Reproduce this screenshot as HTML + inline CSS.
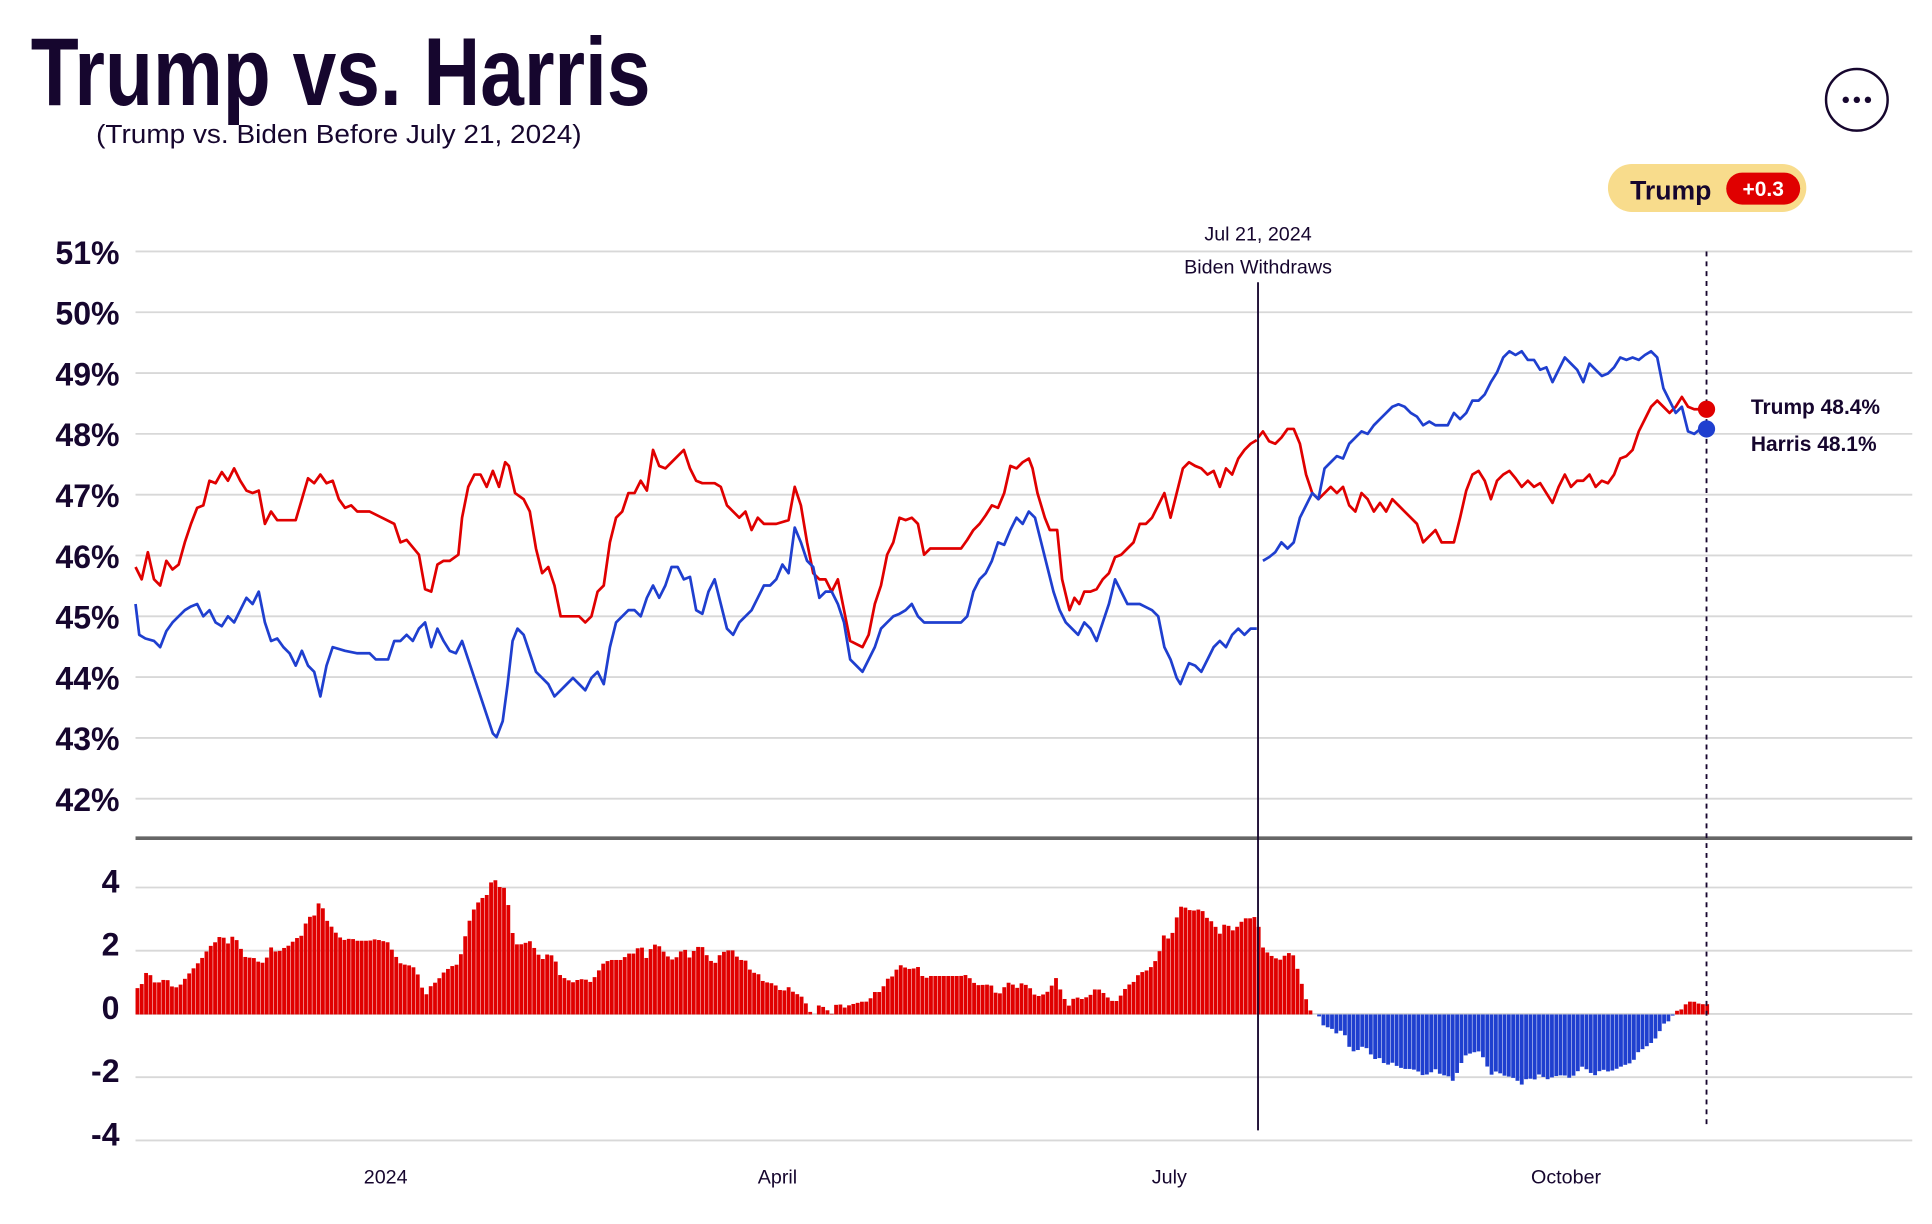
<!DOCTYPE html>
<html><head><meta charset="utf-8"><style>
html,body{margin:0;padding:0;background:#fff;}
svg{display:block;}
text{font-family:"Liberation Sans",sans-serif;}
</style></head><body>
<svg id="s" width="1932" height="1224" viewBox="0 0 1568 993" preserveAspectRatio="none" xmlns="http://www.w3.org/2000/svg">
<text x="25" y="85" font-size="78" font-weight="bold" fill="#16062e" textLength="503" lengthAdjust="spacingAndGlyphs">Trump vs. Harris</text>
<text x="78" y="116" font-size="21" fill="#16062e" textLength="394" lengthAdjust="spacingAndGlyphs">(Trump vs. Biden Before July 21, 2024)</text>
<circle cx="1507" cy="81" r="25" fill="none" stroke="#16062e" stroke-width="2"/>
<circle cx="1498" cy="81" r="2.6" fill="#16062e"/><circle cx="1507" cy="81" r="2.6" fill="#16062e"/><circle cx="1516" cy="81" r="2.6" fill="#16062e"/>
<rect x="1305" y="133" width="161" height="39" rx="19.5" fill="#f8dc8c"/>
<text x="1323" y="162" font-size="22" font-weight="bold" fill="#16062e" textLength="66" lengthAdjust="spacingAndGlyphs">Trump</text>
<rect x="1401" y="140" width="60" height="26" rx="13" fill="#e00000"/>
<text x="1431" y="159" font-size="17" font-weight="bold" fill="#fff" text-anchor="middle">+0.3</text>
<g id="grid"></g>
<g id="bars"></g>
<g id="lines"></g>
<line x1="110" y1="680" x2="1552" y2="680" stroke="#666" stroke-width="3"/>
<line x1="1021" y1="229" x2="1021" y2="917" stroke="#16062e" stroke-width="1.5"/>
<line x1="1385" y1="204" x2="1385" y2="915" stroke="#16062e" stroke-width="1.5" stroke-dasharray="4,4"/>
<text x="1021" y="195" font-size="16" fill="#16062e" text-anchor="middle">Jul 21, 2024</text>
<text x="1021" y="222" font-size="16" fill="#16062e" text-anchor="middle">Biden Withdraws</text>
<circle cx="1385" cy="332" r="7" fill="#e00000"/>
<circle cx="1385" cy="348" r="7" fill="#1f3fcf"/>
<text x="1421" y="336" font-size="17" font-weight="bold" fill="#16062e">Trump 48.4%</text>
<text x="1421" y="366" font-size="17" font-weight="bold" fill="#16062e">Harris 48.1%</text>
<g font-size="16" fill="#16062e" text-anchor="middle">
<text x="313" y="960">2024</text><text x="631" y="960">April</text><text x="949" y="960">July</text><text x="1271" y="960">October</text>
</g>
</svg>
<script>
var NS="http://www.w3.org/2000/svg";
function el(p,t,a,txt){var e=document.createElementNS(NS,t);for(var k in a)e.setAttribute(k,a[k]);if(txt!=null)e.textContent=txt;document.getElementById(p).appendChild(e);return e;}
for(var i=0;i<10;i++){var y=204+i*49.33;el("grid","line",{x1:110,x2:1552,y1:y,y2:y,stroke:"#d8d8d8","stroke-width":1.5});
el("grid","text",{x:97,y:y+10,"font-size":26,"font-weight":"bold",fill:"#16062e","text-anchor":"end"},(51-i)+"%");}
var bl=[4,2,0,-2,-4];for(var i=0;i<5;i++){var y=720+i*51.3;el("grid","line",{x1:110,x2:1552,y1:y,y2:y,stroke:"#d8d8d8","stroke-width":1.5});
el("grid","text",{x:97,y:y+4,"font-size":26,"font-weight":"bold",fill:"#16062e","text-anchor":"end"},bl[i]);}
var R1=[[110,460],[115,470],[120,448],[125,470],[130,475],[135,455],[140,462],[145,458],[150,440],[155,425],[160,412],[165,410],[170,390],[175,392],[180,383],[185,390],[190,380],[195,390],[200,398],[205,400],[210,398],[215,425],[220,415],[225,422],[240,422],[245,405],[250,388],[255,392],[260,385],[265,392],[270,390],[275,405],[280,412],[285,410],[290,415],[300,415],[310,420],[320,425],[325,440],[330,438],[340,450],[345,478],[350,480],[355,458],[360,455],[365,455],[372,450],[375,420],[380,395],[385,385],[390,385],[395,395],[400,382],[405,395],[410,375],[413,378],[418,400],[425,405],[430,415],[435,445],[440,465],[445,460],[450,475],[455,500],[460,500],[470,500],[475,505],[480,500],[485,480],[490,475],[495,440],[500,420],[505,415],[510,400],[515,400],[520,390],[525,398],[530,365],[535,378],[540,380],[545,375],[550,370],[555,365],[560,380],[565,390],[570,392],[580,392],[585,395],[590,410],[595,415],[600,420],[605,415],[610,430],[615,420],[620,425],[630,425],[640,422],[645,395],[650,410],[655,440],[660,465],[665,470],[670,470],[675,480],[680,470],[685,495],[690,520],[700,525],[705,515],[710,490],[715,475],[720,450],[725,440],[730,420],[735,422],[740,420],[745,425],[750,450],[755,445],[770,445],[780,445],[785,438],[790,430],[795,425],[800,418],[805,410],[810,412],[815,400],[820,378],[825,380],[830,375],[835,372],[838,380],[842,400],[848,420],[852,430],[858,430],[862,470],[868,495],[872,485],[876,490],[880,480],[885,480],[890,478],[895,470],[900,465],[905,452],[910,450],[915,445],[920,440],[925,425],[930,425],[935,420],[940,410],[945,400],[950,420],[955,400],[960,380],[965,375],[970,378],[975,380],[980,385],[985,382],[990,395],[995,380],[1000,385],[1005,372],[1010,365],[1015,360],[1020,357]];
var R2=[[1021,355],[1025,350],[1030,358],[1035,360],[1040,355],[1045,348],[1050,348],[1055,360],[1060,385],[1065,400],[1070,405],[1075,400],[1080,395],[1085,400],[1090,395],[1095,410],[1100,415],[1105,400],[1110,405],[1115,415],[1120,408],[1125,415],[1130,405],[1135,410],[1140,415],[1145,420],[1150,425],[1155,440],[1160,435],[1165,430],[1170,440],[1175,440],[1180,440],[1185,420],[1190,398],[1195,385],[1200,382],[1205,390],[1210,405],[1215,390],[1220,385],[1225,382],[1230,388],[1235,395],[1240,390],[1245,395],[1250,392],[1255,400],[1260,408],[1265,395],[1270,385],[1275,395],[1280,390],[1285,390],[1290,385],[1295,395],[1300,390],[1305,392],[1310,385],[1315,372],[1320,370],[1325,365],[1330,350],[1335,340],[1340,330],[1345,325],[1350,330],[1355,335],[1360,330],[1365,322],[1370,330],[1375,332],[1380,332]];
var B1=[[110,490],[113,515],[118,518],[125,520],[130,525],[135,512],[140,505],[145,500],[150,495],[155,492],[160,490],[165,500],[170,495],[175,505],[180,508],[185,500],[190,505],[195,495],[200,485],[205,490],[210,480],[215,505],[220,520],[225,518],[230,525],[235,530],[240,540],[245,528],[250,540],[255,545],[260,565],[265,540],[270,525],[280,528],[290,530],[300,530],[305,535],[315,535],[320,520],[325,520],[330,515],[335,520],[340,510],[345,505],[350,525],[355,510],[360,520],[365,528],[370,530],[375,520],[380,535],[385,550],[390,565],[395,580],[400,595],[403,598],[408,585],[412,555],[416,520],[420,510],[425,515],[430,530],[435,545],[440,550],[445,555],[450,565],[455,560],[460,555],[465,550],[470,555],[475,560],[480,550],[485,545],[490,555],[495,525],[500,505],[505,500],[510,495],[515,495],[520,500],[525,485],[530,475],[535,485],[540,475],[545,460],[550,460],[555,470],[560,468],[565,495],[570,498],[575,480],[580,470],[585,490],[590,510],[595,515],[600,505],[605,500],[610,495],[615,485],[620,475],[625,475],[630,470],[635,458],[640,465],[645,428],[650,440],[655,455],[660,460],[665,485],[670,480],[675,480],[680,490],[685,505],[690,535],[695,540],[700,545],[705,535],[710,525],[715,510],[720,505],[725,500],[730,498],[735,495],[740,490],[745,500],[750,505],[780,505],[785,500],[790,480],[795,470],[800,465],[805,455],[810,440],[815,442],[820,430],[825,420],[830,425],[835,415],[840,420],[845,440],[850,460],[855,480],[860,495],[865,505],[870,510],[875,515],[880,505],[885,510],[890,520],[895,505],[900,490],[905,470],[910,480],[915,490],[925,490],[935,495],[940,500],[945,525],[950,535],[955,550],[958,555],[962,545],[965,538],[970,540],[975,545],[980,535],[985,525],[990,520],[995,525],[1000,515],[1005,510],[1010,515],[1015,510],[1020,510]];
var B2=[[1025,455],[1030,452],[1035,448],[1040,440],[1045,445],[1050,440],[1055,420],[1060,410],[1065,400],[1070,405],[1075,380],[1080,375],[1085,370],[1090,372],[1095,360],[1100,355],[1105,350],[1110,352],[1115,345],[1120,340],[1125,335],[1130,330],[1135,328],[1140,330],[1145,335],[1150,338],[1155,345],[1160,342],[1165,345],[1170,345],[1175,345],[1180,335],[1185,340],[1190,335],[1195,325],[1200,325],[1205,320],[1210,310],[1215,302],[1220,290],[1225,285],[1230,288],[1235,285],[1240,292],[1245,292],[1250,300],[1255,298],[1260,310],[1265,300],[1270,290],[1275,295],[1280,300],[1285,310],[1290,295],[1295,300],[1300,305],[1305,303],[1310,298],[1315,290],[1320,292],[1325,290],[1330,292],[1335,288],[1340,285],[1345,290],[1350,315],[1355,325],[1360,335],[1365,330],[1370,350],[1375,352],[1380,348]];
function interp(a,x){for(var i=0;i<a.length-1;i++){if(x>=a[i][0]&&x<=a[i+1][0]){var t=(x-a[i][0])/(a[i+1][0]-a[i][0]||1);return a[i][1]+t*(a[i+1][1]-a[i][1]);}}return x<a[0][0]?a[0][1]:a[a.length-1][1];}
var R=R1.concat(R2),B=B1.concat(B2);
for(var x=110;x<1385;x+=3.5){var cx=x+1.75;var d=(interp(B,cx)-interp(R,cx))/49.33;var h=d*25.65;
var y=h>0?823-h:823;el("bars","rect",{x:x,y:y,width:3.1,height:Math.abs(h),fill:h>0?"#e00000":"#1f3fcf"});}
function pl(a,c){el("lines","polyline",{points:a.map(function(p){return p.join(",")}).join(" "),fill:"none",stroke:c,"stroke-width":2.2,"stroke-linejoin":"round"});}
pl(R1,"#e00000");pl(R2,"#e00000");pl(B1,"#1f3fcf");pl(B2,"#1f3fcf");
</script>
</body></html>
